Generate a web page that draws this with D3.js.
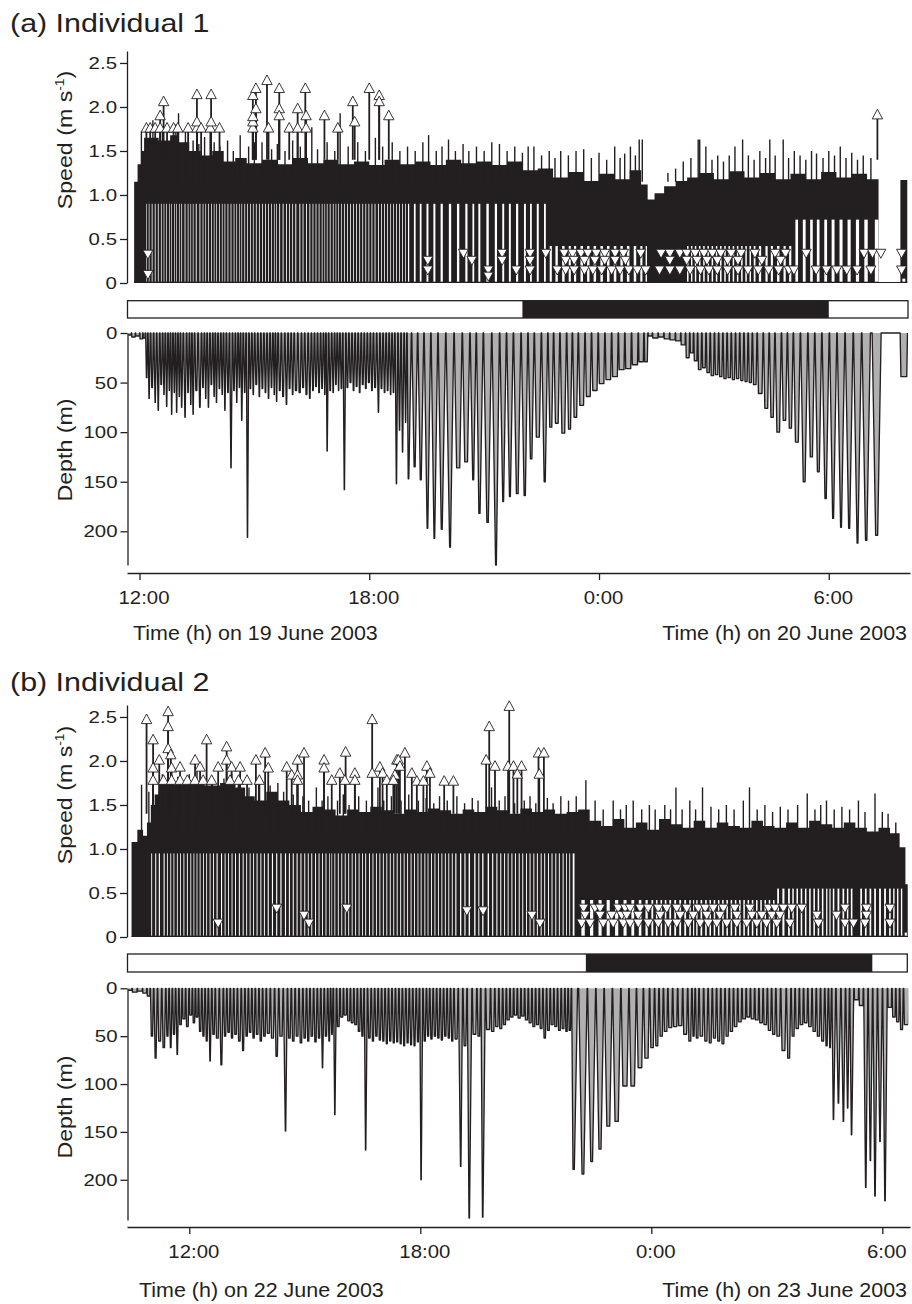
<!DOCTYPE html>
<html><head><meta charset="utf-8">
<script src="https://cdn.jsdelivr.net/npm/d3@7"></script>
<style>
body{margin:0;background:#fff}
svg{display:block}
text{font-family:"Liberation Sans",Arial,Helvetica,sans-serif;fill:#231f20}
</style>
</head><body>
<svg id="chart" width="912" height="1304"></svg>
<script>
// ---------------- DATA ----------------
const timeTicks = [12, 18, 24, 30];
const timeTickLabels = ["12:00", "18:00", "0:00", "6:00"];
const speedTicks = [0, 0.5, 1.0, 1.5, 2.0, 2.5];
const depthTicks = [0, 50, 100, 150, 200];

// Individual 1 : dives [hour (from 0:00 on 19 June), max depth m]
const divesA = [
[11.74,2],[11.84,4],[11.95,3],[12.06,6],[12.12,5],
[12.19,45],[12.25,66],[12.33,55],[12.41,70],[12.49,78],[12.57,52],[12.64,62],[12.71,74],[12.78,58],[12.84,82],[12.91,60],[12.97,80],[13.04,64],[13.10,75],[13.19,85],[13.27,60],[13.34,72],[13.40,82],[13.48,58],[13.58,75],[13.66,55],[13.73,66],[13.80,75],[13.88,52],[13.95,64],[14.01,70],[14.09,56],[14.16,62],[14.23,78],[14.31,60],[14.39,136],[14.47,58],[14.54,70],[14.61,55],[14.67,88],[14.75,60],[14.82,206],[14.90,56],[14.97,62],[15.05,52],[15.13,64],[15.21,56],[15.29,60],[15.37,66],[15.45,55],[15.52,62],[15.58,69],[15.66,58],[15.75,64],[15.84,72],[15.92,56],[16.00,62],[16.08,58],[16.19,60],[16.27,55],[16.36,62],[16.45,66],[16.53,58],[16.61,54],[16.69,60],[16.77,56],[16.84,62],[16.90,119],[16.98,58],[17.06,60],[17.13,52],[17.20,58],[17.27,56],[17.35,158],[17.43,55],[17.51,50],[17.59,58],[17.67,54],[17.75,60],[17.83,52],[17.91,56],[17.99,50],[18.07,58],[18.15,55],[18.24,80],[18.32,56],[18.40,60],[18.48,58],[18.56,62],[18.63,60],
[18.71,152],[18.79,98],[18.87,120],[18.95,90],[19.02,147],[19.19,135],[19.34,148],[19.52,197],[19.70,207],[19.89,198],[20.11,216],[20.32,136],[20.54,130],[20.72,148],[20.87,182],[21.09,191],[21.31,234],[21.50,170],[21.67,165],[21.86,162],[22.07,164],[22.22,127],[22.40,105],[22.59,150],[22.74,95],[22.89,91],[23.07,101],[23.24,97],[23.37,85],[23.55,73],[23.72,64],[23.89,58],[24.07,51],[24.24,47],[24.42,44],[24.59,37],[24.76,36],[24.94,32],[25.11,29],[25.24,29],
[25.32,3],[25.47,5],[25.62,4],[25.77,6],[25.92,7],[26.07,8],[26.20,12],[26.32,25],[26.42,20],[26.52,28],
[26.63,37],[26.74,35],[26.85,40],[26.96,43],[27.07,42],[27.18,44],[27.29,46],[27.40,45],[27.51,47],[27.62,46],[27.73,48],[27.84,49],[27.95,50],[28.06,52],[28.20,61],[28.38,76],[28.51,85],[28.68,100],[28.85,88],[28.99,96],[29.16,110],[29.36,150],[29.55,125],[29.72,140],[29.92,167],[30.11,187],[30.32,196],[30.53,197],[30.75,212],[30.97,209],[31.25,204],
[31.96,44]
];
// speed: solid part of the trace, step points [hour, m/s]
const speedTopA = [
[11.86,1.15],[11.95,1.35],[12.05,1.5],[12.12,1.65],[12.5,1.62],[12.8,1.68],[13.0,1.6],[13.3,1.5],[13.6,1.45],[13.9,1.5],[14.2,1.38],[14.5,1.42],[14.8,1.36],[15.2,1.4],[15.6,1.35],[16.0,1.42],[16.4,1.36],[16.8,1.4],[17.2,1.35],[17.6,1.38],[18.0,1.34],[18.4,1.4],[18.8,1.35],[19.2,1.38],[19.6,1.34],[20.0,1.4],[20.4,1.36],[20.8,1.38],[21.2,1.34],[21.6,1.38],[22.0,1.28],[22.4,1.3],[22.8,1.2],[23.2,1.26],[23.6,1.16],[24.0,1.24],[24.4,1.18],[24.8,1.28],[25.1,1.12],[25.27,0.95],[25.45,1.02],[25.7,1.1],[26.0,1.16],[26.3,1.2],[26.6,1.25],[27.0,1.18],[27.4,1.27],[27.8,1.2],[28.2,1.25],[28.6,1.18],[29.0,1.24],[29.4,1.18],[29.8,1.26],[30.2,1.2],[30.6,1.24],[31.0,1.18],[31.3,0],[31.87,1.17],[32.05,0]
];
const speedBaseA = [[11.86,0.9],[22.7,0.42],[29.0,0.72],[31.3,0.05]];
// brief speed peaks above the solid part
const spikesA = [[12.05,1.72],[12.35,1.85],[12.6,1.78],[12.95,1.8],[13.02,1.93],[13.2,1.75],[13.4,1.62],[13.55,1.58],[13.7,1.66],[13.95,1.6],[14.1,1.55],[14.3,1.62],[14.45,1.5],[14.63,1.68],[14.85,1.55],[15.0,1.6],[15.2,1.6],[15.45,1.52],[15.6,1.58],[15.8,1.5],[16.0,1.62],[16.2,1.55],[16.5,1.77],[16.65,1.52],[16.9,1.6],[17.1,1.5],[17.24,1.93],[17.45,1.55],[17.7,1.6],[17.9,1.5],[18.16,1.65],[18.35,1.55],[18.6,1.6],[18.8,1.5],[19.0,1.55],[19.2,1.5],[19.4,1.6],[19.55,1.68],[19.75,1.5],[19.9,1.55],[20.07,1.63],[20.25,1.5],[20.45,1.58],[20.6,1.5],[20.8,1.55],[21.0,1.5],[21.2,1.6],[21.4,1.58],[21.6,1.5],[21.8,1.55],[22.0,1.48],[22.15,1.55],[22.3,1.55],[22.5,1.45],[22.7,1.5],[22.85,1.42],[23.0,1.5],[23.2,1.45],[23.4,1.5],[23.6,1.52],[23.8,1.42],[24.0,1.48],[24.2,1.4],[24.41,1.55],[24.55,1.42],[24.67,1.47],[24.82,1.55],[24.95,1.45],[25.05,1.63],[25.13,1.63],[25.6,1.15],[25.8,1.25],[26.0,1.3],[26.2,1.38],[26.4,1.42],[26.59,1.63],[26.63,1.63],[26.79,1.55],[26.95,1.4],[27.1,1.45],[27.25,1.38],[27.4,1.45],[27.55,1.55],[27.75,1.63],[27.9,1.45],[28.05,1.4],[28.2,1.5],[28.35,1.42],[28.46,1.63],[28.6,1.45],[28.81,1.63],[28.95,1.42],[29.1,1.5],[29.25,1.45],[29.4,1.4],[29.55,1.5],[29.68,1.47],[29.85,1.42],[30.0,1.5],[30.15,1.45],[30.30,1.55],[30.45,1.42],[30.6,1.48],[30.75,1.4],[30.9,1.45],[31.1,1.42]];
const upA = [[12.18,1.76],[12.28,1.76],[12.41,1.76],[12.54,1.76],[12.54,1.90],[12.63,2.06],[12.72,1.76],[12.89,1.76],[13.00,1.76],[13.27,1.76],[13.50,1.76],[13.50,1.83],[13.50,2.14],[13.61,1.76],[13.85,1.76],[13.87,1.83],[13.87,2.14],[14.09,1.76],[14.96,1.76],[14.96,1.83],[14.96,1.89],[14.96,2.13],[15.04,1.98],[15.04,2.21],[15.33,2.30],[15.37,1.76],[15.65,2.21],[15.65,1.98],[15.65,1.90],[15.91,1.76],[16.13,1.76],[16.13,1.98],[16.33,2.21],[16.35,1.90],[16.35,1.76],[16.83,1.90],[17.18,1.76],[17.57,2.06],[17.62,1.83],[18.00,2.21],[18.26,2.13],[18.26,2.06],[18.51,1.90],[31.27,1.91]];
const downA = [[12.22,0.33],[12.22,0.10],
[20.46,0.34],[21.47,0.34],[22.20,0.34],[22.61,0.34],[23.09,0.34],[23.31,0.34],[23.53,0.34],[23.71,0.34],[23.93,0.34],[24.15,0.34],[24.42,0.34],[24.64,0.34],[25.09,0.34],[25.62,0.34],[25.85,0.34],[26.11,0.34],[26.29,0.34],[26.51,0.34],[26.74,0.34],[26.96,0.34],[27.18,0.34],[27.45,0.34],[27.71,0.34],[28.07,0.34],[28.60,0.34],[28.87,0.34],[29.41,0.34],[30.92,0.34],[31.14,0.34],[31.36,0.34],[31.90,0.34],
[19.53,0.26],[20.68,0.26],[21.47,0.26],[22.20,0.26],[23.13,0.26],[23.35,0.26],[23.62,0.26],[23.89,0.26],[24.15,0.26],[24.42,0.26],[24.69,0.26],[25.85,0.26],[26.29,0.26],[26.56,0.26],[26.82,0.26],[27.09,0.26],[27.36,0.26],[27.63,0.26],[28.25,0.26],[28.74,0.26],
[19.53,0.15],[21.11,0.15],[21.84,0.15],[22.20,0.15],[22.91,0.15],[23.13,0.15],[23.35,0.15],[23.62,0.15],[23.84,0.15],[24.07,0.15],[24.33,0.15],[24.55,0.15],[24.78,0.15],[25.00,0.15],[25.22,0.15],[25.58,0.15],[25.85,0.15],[26.11,0.15],[26.38,0.15],[26.65,0.15],[26.87,0.15],[27.09,0.15],[27.36,0.15],[27.63,0.15],[27.89,0.15],[28.16,0.15],[28.43,0.15],[28.69,0.15],[28.96,0.15],[29.09,0.15],[29.67,0.15],[29.94,0.15],[30.21,0.15],[30.47,0.15],[30.74,0.15],[31.10,0.15],[31.90,0.15],
[21.11,0.08]];
const nightA = [22.0, 30.0];

// Individual 2 : hours from 0:00 on 22 June
const divesB = [
[10.45,2],[10.58,4],[10.72,3],[10.85,5],[10.95,8],
[11.02,50],[11.13,73],[11.22,55],[11.35,62],[11.43,50],[11.52,62],[11.60,48],[11.69,69],[11.77,38],[11.86,32],[11.95,40],[12.04,28],[12.12,36],[12.20,30],[12.28,45],[12.37,50],[12.45,55],[12.54,76],[12.63,48],[12.72,52],[12.84,80],[12.93,50],[13.02,46],[13.11,52],[13.20,48],[13.30,55],[13.40,65],[13.49,50],[13.58,46],[13.67,52],[13.76,48],[13.86,55],[13.95,50],[14.05,47],[14.16,52],[14.27,71],[14.38,50],[14.50,149],[14.60,52],[14.70,55],[14.80,50],[14.90,57],[15.00,52],[15.09,55],[15.18,50],[15.28,56],[15.37,52],[15.46,83],[15.55,50],[15.64,55],[15.70,48],[15.78,132],[15.87,40],[15.96,30],[16.05,28],[16.14,34],[16.23,36],[16.32,38],[16.41,45],[16.50,50],[16.58,169],[16.68,52],[16.77,55],[16.86,50],[16.95,54],[17.04,55],[17.13,58],[17.22,55],[17.31,57],[17.40,56],[17.49,58],[17.58,60],[17.67,57],[17.76,59],[17.85,60],[17.94,56],[18.02,200],[18.12,55],[18.20,50],[18.29,53],[18.38,50],[18.47,52],[18.56,54],[18.65,50],[18.74,52],[18.83,55],[18.92,53],[19.05,186],[19.16,60],[19.27,240],[19.42,48],[19.52,50],[19.62,239],[19.77,43],[19.88,45],[19.99,40],[20.09,42],[20.19,38],[20.28,33],[20.38,30],[20.47,28],[20.57,31],[20.66,29],[20.76,33],[20.85,36],[20.95,40],[21.04,38],[21.14,42],[21.23,52],[21.33,44],[21.42,38],[21.52,40],[21.61,44],[21.71,42],[21.80,45],[21.88,44],
[21.97,189],[22.23,194],[22.45,181],[22.67,168],[22.88,144],[23.10,139],[23.32,102],[23.52,102],[23.71,83],[23.88,73],[24.03,62],[24.14,60],[24.26,50],[24.37,45],[24.49,41],[24.62,40],[24.75,39],[24.88,48],[25.01,55],[25.10,50],[25.18,52],[25.30,50],[25.42,55],[25.53,57],[25.64,52],[25.75,55],[25.86,58],[25.97,50],[26.08,45],[26.19,40],[26.30,35],[26.41,32],[26.52,30],[26.63,32],[26.74,33],[26.85,36],[26.96,38],[27.07,44],[27.18,48],[27.29,50],[27.43,65],[27.58,73],[27.68,50],[27.79,42],[27.90,38],[28.01,36],[28.12,40],[28.23,45],[28.34,50],[28.45,55],[28.56,60],[28.64,62],[28.73,137],[28.86,120],[28.99,139],[29.10,125],[29.20,153],[29.33,12],[29.45,18],[29.57,208],[29.69,180],[29.81,217],[29.94,160],[30.07,222],[30.20,20],[30.30,30],[30.40,35],[30.50,43],[30.60,38]
];
const speedTopB = [
[10.5,1.08],[10.65,1.22],[10.8,1.15],[10.9,1.3],[11.0,1.5],[11.1,1.62],[11.2,1.75],[11.6,1.73],[12.0,1.76],[12.4,1.72],[12.8,1.75],[13.2,1.7],[13.45,1.6],[13.7,1.55],[14.0,1.65],[14.3,1.55],[14.6,1.5],[14.9,1.42],[15.2,1.48],[15.5,1.45],[15.8,1.38],[16.1,1.45],[16.4,1.42],[16.7,1.48],[17.0,1.44],[17.3,1.4],[17.6,1.45],[17.9,1.42],[18.2,1.46],[18.5,1.44],[18.8,1.4],[19.1,1.45],[19.4,1.42],[19.7,1.48],[20.0,1.44],[20.3,1.4],[20.6,1.46],[20.9,1.42],[21.2,1.45],[21.5,1.4],[21.8,1.42],[22.1,1.45],[22.4,1.32],[22.7,1.26],[23.0,1.34],[23.3,1.24],[23.6,1.3],[23.9,1.22],[24.2,1.34],[24.5,1.28],[24.8,1.24],[25.1,1.32],[25.4,1.24],[25.7,1.3],[26.0,1.26],[26.3,1.24],[26.6,1.32],[26.9,1.26],[27.2,1.24],[27.5,1.3],[27.8,1.24],[28.1,1.32],[28.4,1.28],[28.7,1.24],[29.0,1.3],[29.3,1.24],[29.6,1.2],[29.9,1.24],[30.2,1.18],[30.45,1.02],[30.6,0.6],[30.66,0]
];
const speedBaseB = [[10.5,0.95],[22.05,0.42],[27.2,0.55],[30.6,0.05]];
const spikesB = [[10.76,1.73],[10.95,1.65],[11.3,1.85],[11.7,1.82],[12.0,1.85],[12.2,1.9],[12.6,1.82],[12.9,1.8],[13.1,1.85],[13.3,1.75],[13.55,1.7],[13.8,1.75],[14.1,1.72],[14.3,1.75],[14.45,1.65],[14.7,1.62],[14.95,1.6],[15.1,1.55],[15.3,1.7],[15.45,1.55],[15.6,1.6],[15.85,1.55],[16.0,1.62],[16.15,1.5],[16.4,1.6],[16.6,1.55],[16.9,1.7],[17.05,1.55],[17.25,1.6],[17.5,1.55],[17.7,1.62],[17.95,1.55],[18.15,1.58],[18.35,1.52],[18.5,1.6],[18.7,1.55],[18.95,1.6],[19.15,1.52],[19.35,1.58],[19.5,1.55],[19.85,1.7],[20.05,1.55],[20.2,1.6],[20.45,1.52],[20.7,1.55],[20.85,1.6],[21.0,1.52],[21.3,1.58],[21.45,1.52],[21.65,1.6],[21.85,1.55],[22.05,1.6],[22.30,1.78],[22.54,1.55],[22.75,1.45],[23.01,1.55],[23.2,1.45],[23.35,1.5],[23.53,1.55],[23.75,1.45],[23.95,1.5],[24.1,1.45],[24.35,1.5],[24.5,1.45],[24.64,1.70],[24.8,1.45],[25.0,1.55],[25.15,1.45],[25.33,1.70],[25.55,1.48],[25.75,1.45],[25.95,1.5],[26.15,1.45],[26.39,1.55],[26.55,1.70],[26.75,1.45],[26.95,1.5],[27.15,1.42],[27.35,1.48],[27.55,1.45],[27.8,1.5],[28.05,1.63],[28.25,1.45],[28.4,1.5],[28.55,1.55],[28.75,1.45],[28.95,1.48],[29.15,1.45],[29.38,1.55],[29.55,1.42],[29.81,1.63],[30.0,1.42],[30.15,1.4],[30.35,1.3]];
const upB = [[10.89,2.47],[11.06,2.24],[11.06,1.92],[11.06,1.78],[11.22,2.01],[11.45,2.56],[11.45,2.39],[11.45,2.14],[11.52,2.07],
[11.33,1.78],[11.54,1.78],[11.76,1.78],[11.95,1.78],[12.15,1.78],[12.36,1.78],[12.58,1.78],
[11.54,1.92],[11.76,1.93],[12.15,2.01],[12.28,1.93],[12.45,2.24],[12.75,1.93],[12.97,2.16],[12.97,2.01],[13.10,1.93],[13.32,1.93],[13.06,1.78],[13.28,1.78],[13.50,1.78],
[13.73,2.01],[13.97,2.09],[14.05,1.92],[13.82,1.78],[14.53,1.93],[14.66,1.84],[14.81,2.01],[14.81,1.84],[14.81,1.78],[14.98,2.09],[15.50,2.01],[15.50,1.92],[15.70,1.78],[16.06,2.10],[15.91,1.86],[16.04,1.78],[16.30,1.86],[16.30,1.78],[16.75,2.47],[16.75,1.86],[16.95,1.93],[17.02,1.86],[17.13,1.78],[17.39,2.01],[17.34,1.84],[17.30,1.78],
[17.43,2.01],[17.47,1.94],[17.60,2.09],[17.78,1.86],[17.91,1.77],[18.08,1.77],[18.17,1.94],[18.25,1.86],[18.62,1.77],[18.86,1.77],[19.71,2.01],[19.79,2.39],[19.94,1.94],[20.31,2.62],[20.28,1.94],[20.42,1.94],[20.63,1.94],[20.52,1.85],[21.07,2.09],[21.21,2.09],[21.09,1.85]];
const downB = [[12.75,0.16],[14.27,0.33],[14.98,0.25],[15.11,0.16],[16.09,0.33],[19.21,0.30],[19.63,0.30],[20.90,0.25],[21.11,0.16],
[22.24,0.33],[22.54,0.33],[22.67,0.33],[23.14,0.33],[23.32,0.33],[23.45,0.33],[23.71,0.33],[23.92,0.33],[24.18,0.33],[24.40,0.33],[24.66,0.33],[24.92,0.33],[25.22,0.33],[25.40,0.33],[25.61,0.33],[25.87,0.33],[26.17,0.33],[26.56,0.33],[27.04,0.33],[27.21,0.33],[27.43,0.33],[27.65,0.33],[27.91,0.33],[29.03,0.33],[29.59,0.33],[30.20,0.33],
[22.28,0.25],[22.67,0.25],[22.97,0.25],[23.23,0.25],[23.36,0.25],[23.66,0.25],[24.23,0.25],[24.75,0.25],[25.09,0.25],[25.44,0.25],[25.78,0.25],[26.22,0.25],[26.61,0.25],[26.87,0.25],[27.13,0.25],[27.34,0.25],[28.30,0.25],[28.81,0.25],[29.59,0.25],
[22.19,0.16],[22.41,0.16],[22.75,0.16],[23.01,0.16],[23.27,0.16],[23.45,0.16],[23.66,0.16],[23.92,0.16],[24.18,0.16],[24.44,0.16],[24.66,0.16],[24.96,0.16],[25.27,0.16],[25.48,0.16],[25.70,0.16],[25.96,0.16],[26.22,0.16],[26.48,0.16],[26.74,0.16],[26.99,0.16],[27.26,0.16],[27.60,0.16],[28.34,0.16],[29.03,0.16],[29.25,0.16],[29.55,0.16],[30.20,0.16]];
const nightB = [22.3, 29.74];

// ---------------- DRAWING ----------------
const INK = "#231f20";
const svg = d3.select("#chart");
const GAP = 0.012;

function diveGeom(dives) {
  return dives.map((dv, i) => {
    const t = dv[0], d = dv[1];
    const dd = d / 0.62 / 3600;                 // descent duration (h)
    const lim = dd + Math.max(0.006, 0.09 - 0.7 * dd);
    const prev = i > 0 ? dives[i - 1][0] : t - 1;
    const next = i < dives.length - 1 ? dives[i + 1][0] : t + 1;
    const left = Math.min(lim, (t - prev) / 2 - GAP / 2);
    const right = Math.min(lim, (next - t) / 2 - GAP / 2);
    const desc = Math.min(dd, 0.9 * left), asc = Math.min(dd, 0.9 * right);
    return {t, d, start: t - left, end: t + right, b0: t - left + desc, b1: t + right - asc};
  });
}

const panels = [
  {id: "a", title: "(a) Individual 1", titleY: 32, xDomain: [11.674, 32.121],
   sTop: 51, s0: 283, barY: 300.7, barH: 17.3, barX1: 908,
   d0: 333, dBot: 565, dMax: 234, axisY: 573, speedTitleY: 140, depthTitleY: 450,
   leftLabel: "Time (h) on 19 June 2003", rightLabel: "Time (h) on 20 June 2003", leftLabelX: 133, timeLabelY: 640,
   dives: divesA, top: speedTopA, base: speedBaseA, spikes: spikesA, up: upA, down: downA, night: nightA},
  {id: "b", title: "(b) Individual 2", titleY: 691, xDomain: [10.382, 30.719],
   sTop: 705, s0: 937, barY: 954, barH: 18, barX1: 907.3,
   d0: 988.3, dBot: 1220, dMax: 242, axisY: 1227, speedTitleY: 795, depthTitleY: 1107,
   leftLabel: "Time (h) on 22 June 2003", rightLabel: "Time (h) on 23 June 2003", leftLabelX: 139, timeLabelY: 1297,
   dives: divesB, top: speedTopB, base: speedBaseB, spikes: spikesB, up: upB, down: downB, night: nightB}
];

svg.append("defs").append("clipPath").attr("id", "plotclip")
  .append("rect").attr("x", 128.2).attr("y", 0).attr("width", 780).attr("height", 1304);

panels.forEach(p => {
  const g = svg.append("g");
  const x = d3.scaleLinear().domain(p.xDomain).range([127, 910]);
  const ys = d3.scaleLinear().domain([0, 2.636]).range([p.s0, p.sTop]);
  const yd = d3.scaleLinear().domain([0, p.dMax]).range([p.d0, p.dBot]);
  const plot = g.append("g").attr("clip-path", "url(#plotclip)");
  const geom = diveGeom(p.dives);

  // ---- speed trace ----
  const area = d3.area().curve(d3.curveStepAfter)
    .x(d => x(d[0])).y0(ys(0)).y1(d => ys(d[1]));
  plot.append("path").datum(p.top).attr("d", area).attr("fill", INK);
  plot.append("line")
    .attr("x1", x(p.top[0][0])).attr("x2", x(p.top[p.top.length - 1][0]))
    .attr("y1", ys(0) - 0.5).attr("y2", ys(0) - 0.5)
    .attr("stroke", INK).attr("stroke-width", 1.2);
  const bis = d3.bisector(d => d[0]).right;
  const baseAt = t => { const i = bis(p.base, t) - 1; return i < 0 ? p.base[0][1] : p.base[i][1]; };
  const topAt = t => { const i = bis(p.top, t) - 1; return i < 0 ? 0 : p.top[i][1]; };
  const slit = o => (baseAt(o.t) > 0.8 ? 0.3 : 0.4);
  plot.append("g").selectAll("rect").data(geom.filter(o => o.d >= 15 && topAt(o.t) > 0.3))
    .join("rect")
    .attr("x", o => x(o.t - slit(o) * (o.t - o.start)))
    .attr("width", o => Math.max(0.4, x(o.t + slit(o) * (o.end - o.t)) - x(o.t - slit(o) * (o.t - o.start))))
    .attr("y", o => ys(baseAt(o.t)))
    .attr("height", o => Math.max(0, ys(0.015) - ys(baseAt(o.t))))
    .attr("fill", "#fff");
  plot.append("g").selectAll("line").data(p.spikes).join("line")
    .attr("x1", d => x(d[0])).attr("x2", d => x(d[0]))
    .attr("y1", d => ys(1.15)).attr("y2", d => ys(d[1]))
    .attr("stroke", INK).attr("stroke-width", 1.4);
  plot.append("g").selectAll("line").data(p.up).join("line")
    .attr("x1", d => x(d[0])).attr("x2", d => x(d[0]))
    .attr("y1", ys(1.4)).attr("y2", d => ys(d[1]))
    .attr("stroke", INK).attr("stroke-width", 1.8);
  plot.append("g").selectAll("path").data(p.down).join("path")
    .attr("d", d => { const cx = x(d[0]), cy = ys(d[1]);
      return `M${cx},${cy + 5.2}L${cx + 5},${cy - 3.8}L${cx - 5},${cy - 3.8}Z`; })
    .attr("fill", "#fff").attr("stroke", INK).attr("stroke-width", 0.9);
  plot.append("g").selectAll("path").data(p.up).join("path")
    .attr("d", d => { const cx = x(d[0]), cy = ys(d[1]);
      return `M${cx},${cy - 5.6}L${cx + 5.2},${cy + 4}L${cx - 5.2},${cy + 4}Z`; })
    .attr("fill", "#fff").attr("stroke", INK).attr("stroke-width", 0.9);

  // ---- speed axis ----
  const ay = d3.axisLeft(ys).tickValues(speedTicks)
    .tickFormat(d => d === 0 ? "0" : d3.format(".1f")(d)).tickSize(7).tickSizeOuter(0).tickPadding(3);
  const gy = g.append("g").attr("transform", "translate(127,0)").call(ay);

  // ---- day / night bar ----
  g.append("rect").attr("x", 127.5).attr("y", p.barY).attr("width", p.barX1 - 127.5).attr("height", p.barH)
    .attr("fill", "#fff").attr("stroke", INK).attr("stroke-width", 1.3);
  g.append("rect").attr("x", x(p.night[0])).attr("y", p.barY).attr("width", x(p.night[1]) - x(p.night[0]))
    .attr("height", p.barH).attr("fill", INK);

  // ---- depth trace ----
  plot.append("g").selectAll("path").data(geom).join("path")
    .attr("d", o => d3.line()([[x(o.start), yd(0)], [x(o.b0), yd(o.d)], [x(o.b1), yd(o.d)], [x(o.end), yd(0)]]) + "Z")
    .attr("fill", "#b0b0b0").attr("stroke", "none");
  const pts = [];
  geom.forEach(o => { pts.push([o.start, 0], [o.b0, o.d], [o.b1, o.d], [o.end, 0]); });
  plot.append("path").datum(pts)
    .attr("d", d3.line().x(d => x(d[0])).y(d => yd(d[1])))
    .attr("fill", "none").attr("stroke", INK).attr("stroke-width", 1.35).attr("stroke-linejoin", "round");

  const ad = d3.axisLeft(yd).tickValues(depthTicks).tickFormat(d3.format("d"))
    .tickSize(7).tickSizeOuter(0).tickPadding(3);
  const gd = g.append("g").attr("transform", "translate(127.5,0)").call(ad);

  // ---- time axis ----
  const ax = d3.axisBottom(x).tickValues(timeTicks).tickFormat((d, i) => timeTickLabels[i])
    .tickSize(7).tickSizeOuter(0);
  const gx = g.append("g").attr("transform", `translate(0,${p.axisY})`).call(ax);
  gx.selectAll(".tick text").attr("y", 31).attr("dy", 0).attr("dx", 4).style("font-size", "18.5px")
    .attr("data-k", 1.1);

  [gy, gd, gx].forEach(a => {
    a.select(".domain").attr("stroke", INK).attr("stroke-width", 1.3);
    a.selectAll(".tick line").attr("stroke", INK).attr("stroke-width", 1.3);
    a.selectAll(".tick text").attr("fill", INK).attr("font-family", null);
  });
  gy.selectAll(".tick text").style("font-size", "17px").attr("data-k", 1.2);
  gd.selectAll(".tick text").style("font-size", "17px").attr("data-k", 1.2);

  // ---- texts ----
  g.append("text").attr("x", 10).attr("y", p.titleY).style("font-size", "26px").attr("data-k", 1.17).text(p.title);
  const st = g.append("text").attr("transform", `translate(72,${p.speedTitleY}) rotate(-90)`)
    .attr("text-anchor", "middle").style("font-size", "20px").attr("data-k", 1.16);
  st.append("tspan").text("Speed (m s");
  st.append("tspan").attr("dy", -8).style("font-size", "12px").text("-1");
  st.append("tspan").attr("dy", 8).text(")");
  g.append("text").attr("transform", `translate(72,${p.depthTitleY}) rotate(-90)`)
    .attr("text-anchor", "middle").style("font-size", "20px").attr("data-k", 1.16).text("Depth (m)");
  g.append("text").attr("x", p.leftLabelX).attr("y", p.timeLabelY).style("font-size", "19.5px")
    .attr("data-k", 1.1).text(p.leftLabel);
  g.append("text").attr("x", 907).attr("y", p.timeLabelY).attr("text-anchor", "end")
    .style("font-size", "19.5px").attr("data-k", 1.1).text(p.rightLabel);
});

// widen glyphs to match the proportions of the reference typeface
svg.selectAll("text").each(function () {
  const k = +(this.getAttribute("data-k") || 1.1);
  const w = this.getComputedTextLength();
  this.setAttribute("textLength", (w * k).toFixed(1));
  this.setAttribute("lengthAdjust", "spacingAndGlyphs");
});
</script>
</body></html>
